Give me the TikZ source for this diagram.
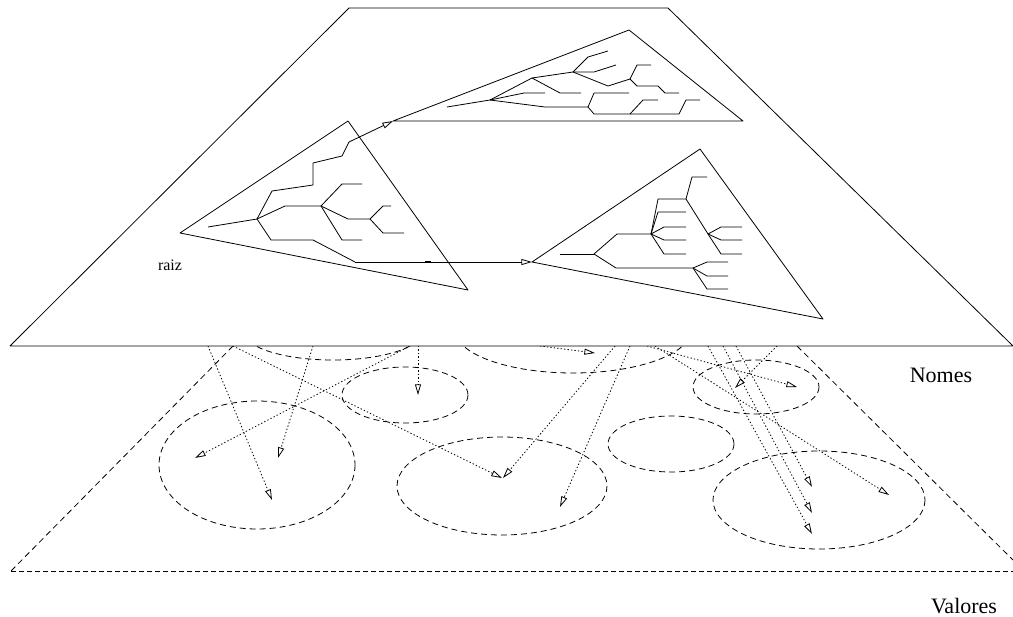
\documentclass[tikz,border=0pt]{standalone}
\usepackage{fontspec}
\setmainfont{Liberation Serif}
\usetikzlibrary{arrows.meta}

\tikzset{
	conjunto/.style={dash pattern=on 4.5pt off 3pt},
	ligacao/.style={dash pattern=on 1pt off 1.6pt,-{Triangle[open,length=8pt,width=4.5pt]}},
	seta/.style={-{Triangle[open,length=8pt,width=4.5pt]}},
	rotulo/.style={inner sep=0pt,font=\fontsize{16.5}{18}\selectfont}
}

\begin{document}
\begin{tikzpicture}[x=0.75pt,y=-0.75pt,line width=0.6pt,line join=round]
		\useasboundingbox (0,0) rectangle (1013,617);
		% valores
		\draw[conjunto] (333,332) ellipse (89 and 28);
		\draw[conjunto] (573,330) ellipse (118 and 43);
		\draw[conjunto] (405,395) ellipse (63 and 28);
		\draw[conjunto] (257,465) ellipse (98 and 64);
		\draw[conjunto] (502,486) ellipse (105 and 49);
		\draw[conjunto] (671,444) ellipse (63 and 28);
		\draw[conjunto] (756,387) ellipse (63 and 27);
		\draw[conjunto] (819,500) ellipse (106 and 49);
		\draw[conjunto] (233,346) -- (11,571);
		\draw[conjunto] (797,346) -- (1013,560);
		\draw[dash pattern=on 3.5pt off 2.5pt] (11,571) -- (1013,571);
		\foreach \i/\a/\bx/\by in {1/208/272/500, 2/233/502/478, 3/313/278/458, 4/410/195/458,
				5/418/418/395, 6/540/595/353, 7/615/503/478, 8/630/560/507, 9/647/797/387,
				10/655/889/495, 11/708/812/534, 12/723/812/513, 13/736/812/487, 14/777/735/388}{
			\coordinate (s\i) at (\a,346);
			\coordinate (e\i) at (\bx,\by);
			\draw[ligacao] (s\i) -- (e\i);
		}
		% nomes
		\draw[fill=white] (10,346) -- (349,8) -- (668,8) -- (1013,346) -- cycle;
		\coordinate (tl) at (393,121);
		\coordinate (rl) at (532,262);
		\draw (348,121) -- (180,233) -- (468,290) -- cycle;
		\draw (629,30) -- (tl) -- (743,121) -- cycle;
		\draw (700,149) -- (rl) -- (823,319) -- cycle;
		% arvore da raiz
		\coordinate (la) at (257,219);
		\draw (208,227) -- (la);
		\draw (la) -- (272,191) -- (313,185) -- (313,163) -- (342,156) -- (349,142) coordinate (lt);
		\draw[seta] (lt) -- (tl);
		\draw (la) -- (285,206) -- (321,206) coordinate (lb);
		\draw (lb) -- (342,184) -- (362,184);
		\draw (lb) -- (348,219) -- (370,219) coordinate (lc);
		\draw (lc) -- (383,206) -- (391,206);
		\draw (lc) -- (383,233) -- (404,233);
		\draw (lb) -- (342,240) -- (362,240);
		\draw (la) -- (271,240) -- (313,240) -- (355,262) coordinate (ld);
		\draw[seta] (ld) -- (rl);
		\draw[line width=1.4pt] (425,262) -- (431,262);
		% arvore de cima
		\coordinate (ta) at (490,100);
		\draw (447,107) -- (ta);
		\draw (ta) -- (532,78) coordinate (tb) -- (573,72) coordinate (tc);
		\draw (tc) -- (588,57) -- (608,51);
		\draw (tc) -- (594,72) -- (616,65);
		\draw (tc) -- (608,86) -- (630,79) coordinate (td);
		\draw (td) -- (637,65) -- (651,65);
		\draw (td) -- (637,86) -- (658,86) -- (665,93) -- (679,93);
		\draw (tb) -- (560,93) -- (581,93);
		\draw (ta) -- (524,93) -- (545,93);
		\draw (ta) -- (545,107) -- (588,107) coordinate (te);
		\draw (te) -- (594,93) -- (629,93);
		\draw (te) -- (594,114) -- (630,114) coordinate (tf);
		\draw (tf) -- (643,100) -- (658,100);
		\draw (tf) -- (679,114) -- (686,100) -- (700,100);
		% arvore da direita
		\draw (560,254) -- (594,254) coordinate (ra);
		\draw (ra) -- (617,234) -- (651,234) coordinate (rb);
		\draw (rb) -- (658,199) -- (686,199) coordinate (rc);
		\draw (rc) -- (692,177) -- (707,177);
		\draw (rc) -- (708,234) coordinate (rd) -- (721,254) -- (742,254);
		\draw (rd) -- (721,227) -- (742,227);
		\draw (rd) -- (721,240) -- (742,240);
		\draw (rb) -- (658,212) -- (686,212);
		\draw (rb) -- (664,227) -- (686,227);
		\draw (rb) -- (664,240) -- (686,240);
		\draw (rb) -- (664,254) -- (686,254);
		\draw (ra) -- (616,268) -- (693,268) coordinate (re);
		\draw (re) -- (707,262) -- (728,262);
		\draw (re) -- (707,276) -- (728,276);
		\draw (re) -- (707,289) -- (728,289);
		% rotulos
		\node[inner sep=0pt,font=\fontsize{12}{14}\selectfont] (raiz) at (170,265) {raiz};
		\node[rotulo] (nomes) at (941,375) {Nomes};
		\node[rotulo] (valores) at (964,606) {Valores};
\end{tikzpicture}
\end{document}
